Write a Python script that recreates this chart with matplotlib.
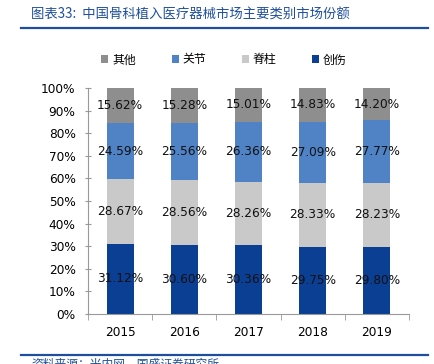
import matplotlib
matplotlib.use("Agg")
import matplotlib.pyplot as plt
from matplotlib.patches import Patch
from matplotlib.lines import Line2D
import numpy as np

plt.rcParams['font.family'] = ['Noto Sans CJK SC', 'DejaVu Sans']

years = ["2015", "2016", "2017", "2018", "2019"]
trauma = [31.12, 30.60, 30.36, 29.75, 29.80]   # 创伤
spine = [28.67, 28.56, 28.26, 28.33, 28.23]    # 脊柱
joint = [24.59, 25.56, 26.36, 27.09, 27.77]    # 关节
other = [15.62, 15.28, 15.01, 14.83, 14.20]    # 其他
series_names = ["创伤", "脊柱", "关节", "其他"]
colors = ["#0a3f94", "#c9c9c9", "#4f83c6", "#8e8e8e"]
yticks = [0, 10, 20, 30, 40, 50, 60, 70, 80, 90, 100]

W, H = 434, 364
fig = plt.figure(figsize=(W / 100, H / 100), dpi=100)
fig.patch.set_facecolor("white")

def fx(px):
    return px / W

def fy(py):
    return 1 - py / H

ax = fig.add_axes([fx(88), fy(314), fx(409) - fx(88), fy(88) - fy(314)])
x = np.arange(len(years))
data = [trauma, spine, joint, other]
bottom = np.zeros(len(years))
for vals, c, name in zip(data, colors, series_names):
    vals = np.array(vals)
    ax.bar(x, vals, 0.42, bottom=bottom, color=c, label=name, zorder=2)
    for xi, b, v in zip(x, bottom, vals):
        ax.text(xi, b + v / 2, f"{v:.2f}%", ha="center", va="center",
                fontsize=8.7, family="DejaVu Sans", color="#111111", zorder=3)
    bottom = bottom + vals

ax.set_xlim(-0.5, len(years) - 0.5)
ax.set_ylim(0, 100)
ax.set_yticks(yticks)
ax.set_yticklabels([f"{t}%" for t in yticks], family="DejaVu Sans", fontsize=8.7)
ax.set_xticks(x)
ax.set_xticklabels(years, family="DejaVu Sans", fontsize=8.7)
ax.tick_params(axis="x", length=0, pad=9)
ax.set_xticks(np.arange(-0.5, len(years)), minor=True)
ax.tick_params(axis="x", which="minor", length=4, color="#999999", direction="out")
ax.tick_params(axis="y", length=4, color="#999999", direction="inout", pad=7)
for s in ["top", "right"]:
    ax.spines[s].set_visible(False)
for s in ["left", "bottom"]:
    ax.spines[s].set_color("#999999")
    ax.spines[s].set_linewidth(0.8)

# legend
handles = [Patch(facecolor=colors[i], edgecolor="none", label=series_names[i]) for i in [3, 2, 1, 0]]
fig.legend(handles=handles, loc="center", bbox_to_anchor=(fx(224), fy(60)), ncol=4,
           frameon=False, handlelength=0.6, handleheight=0.6,
           handletextpad=0.3, columnspacing=3.0, prop={"family": ["Noto Sans CJK SC"], "size": 8.6})

# title and lines
fig.text(fx(31), fy(15), "图表33:  中国骨科植入医疗器械市场主要类别市场份额", ha="left", va="center",
         fontsize=9.6, color="#1f4e9c", style="italic")
fig.add_artist(Line2D([fx(21), fx(428)], [fy(28), fy(28)], color="#1f4e9c", lw=1.6))
fig.add_artist(Line2D([fx(21), fx(428)], [fy(355), fy(355)], color="#1f4e9c", lw=1.6))
fig.text(fx(31), fy(358), "资料来源：米内网，国盛证券研究所", ha="left", va="top",
         fontsize=8.5, color="#1f4e9c", style="italic")

fig.savefig("out.png", dpi=100, facecolor="white")
